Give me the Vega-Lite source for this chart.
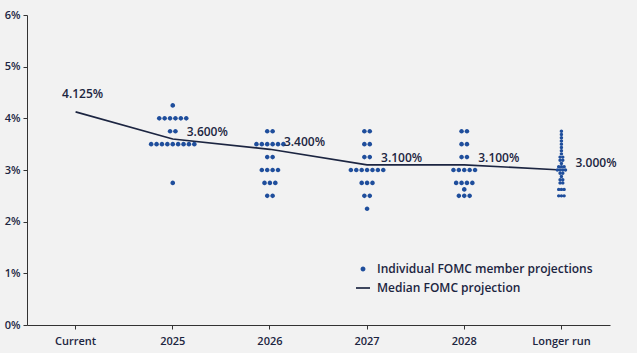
{
  "$schema": "https://vega.github.io/schema/vega-lite/v6.json",
  "width": 583,
  "height": 310,
  "autosize": {"type": "none"},
  "padding": {"left": 27, "top": 15, "right": 27, "bottom": 28},
  "background": "#f2f2f2",
  "config": {
    "view": {"stroke": null},
    "font": "Open Sans",
    "axis": {"labelFont": "Open Sans", "labelFontWeight": 600, "labelColor": "#1c2541", "labelFontSize": 11, "domainColor": "#333333", "tickColor": "#333333", "grid": false}
  },
  "datasets": {
    "dots": [
      {"period": "2025", "rate": 4.25},
      {"period": "2025", "rate": 4.0}, {"period": "2025", "rate": 4.0}, {"period": "2025", "rate": 4.0}, {"period": "2025", "rate": 4.0}, {"period": "2025", "rate": 4.0}, {"period": "2025", "rate": 4.0},
      {"period": "2025", "rate": 3.75}, {"period": "2025", "rate": 3.75},
      {"period": "2025", "rate": 3.5}, {"period": "2025", "rate": 3.5}, {"period": "2025", "rate": 3.5}, {"period": "2025", "rate": 3.5}, {"period": "2025", "rate": 3.5}, {"period": "2025", "rate": 3.5}, {"period": "2025", "rate": 3.5}, {"period": "2025", "rate": 3.5}, {"period": "2025", "rate": 3.5},
      {"period": "2025", "rate": 2.75},
      {"period": "2026", "rate": 3.75}, {"period": "2026", "rate": 3.75},
      {"period": "2026", "rate": 3.5}, {"period": "2026", "rate": 3.5}, {"period": "2026", "rate": 3.5}, {"period": "2026", "rate": 3.5}, {"period": "2026", "rate": 3.5}, {"period": "2026", "rate": 3.5},
      {"period": "2026", "rate": 3.25}, {"period": "2026", "rate": 3.25},
      {"period": "2026", "rate": 3.0}, {"period": "2026", "rate": 3.0}, {"period": "2026", "rate": 3.0}, {"period": "2026", "rate": 3.0},
      {"period": "2026", "rate": 2.75}, {"period": "2026", "rate": 2.75}, {"period": "2026", "rate": 2.75},
      {"period": "2026", "rate": 2.5}, {"period": "2026", "rate": 2.5},
      {"period": "2027", "rate": 3.75}, {"period": "2027", "rate": 3.75},
      {"period": "2027", "rate": 3.5}, {"period": "2027", "rate": 3.5},
      {"period": "2027", "rate": 3.25}, {"period": "2027", "rate": 3.25},
      {"period": "2027", "rate": 3.0}, {"period": "2027", "rate": 3.0}, {"period": "2027", "rate": 3.0}, {"period": "2027", "rate": 3.0}, {"period": "2027", "rate": 3.0}, {"period": "2027", "rate": 3.0}, {"period": "2027", "rate": 3.0},
      {"period": "2027", "rate": 2.75}, {"period": "2027", "rate": 2.75}, {"period": "2027", "rate": 2.75},
      {"period": "2027", "rate": 2.5}, {"period": "2027", "rate": 2.5},
      {"period": "2027", "rate": 2.25},
      {"period": "2028", "rate": 3.75}, {"period": "2028", "rate": 3.75},
      {"period": "2028", "rate": 3.5}, {"period": "2028", "rate": 3.5},
      {"period": "2028", "rate": 3.25}, {"period": "2028", "rate": 3.25},
      {"period": "2028", "rate": 3.0}, {"period": "2028", "rate": 3.0}, {"period": "2028", "rate": 3.0}, {"period": "2028", "rate": 3.0}, {"period": "2028", "rate": 3.0},
      {"period": "2028", "rate": 2.75}, {"period": "2028", "rate": 2.75}, {"period": "2028", "rate": 2.75}, {"period": "2028", "rate": 2.75},
      {"period": "2028", "rate": 2.625},
      {"period": "2028", "rate": 2.5}, {"period": "2028", "rate": 2.5}, {"period": "2028", "rate": 2.5},
      {"period": "Longer run", "rate": 3.75},
      {"period": "Longer run", "rate": 3.6875},
      {"period": "Longer run", "rate": 3.625},
      {"period": "Longer run", "rate": 3.5625},
      {"period": "Longer run", "rate": 3.5},
      {"period": "Longer run", "rate": 3.4375},
      {"period": "Longer run", "rate": 3.375},
      {"period": "Longer run", "rate": 3.3125},
      {"period": "Longer run", "rate": 3.25}, {"period": "Longer run", "rate": 3.25},
      {"period": "Longer run", "rate": 3.1875}, {"period": "Longer run", "rate": 3.1875},
      {"period": "Longer run", "rate": 3.125},
      {"period": "Longer run", "rate": 3.0625}, {"period": "Longer run", "rate": 3.0625}, {"period": "Longer run", "rate": 3.0625},
      {"period": "Longer run", "rate": 3.0}, {"period": "Longer run", "rate": 3.0}, {"period": "Longer run", "rate": 3.0}, {"period": "Longer run", "rate": 3.0},
      {"period": "Longer run", "rate": 2.9375}, {"period": "Longer run", "rate": 2.9375},
      {"period": "Longer run", "rate": 2.875},
      {"period": "Longer run", "rate": 2.8125}, {"period": "Longer run", "rate": 2.8125},
      {"period": "Longer run", "rate": 2.75}, {"period": "Longer run", "rate": 2.75},
      {"period": "Longer run", "rate": 2.625}, {"period": "Longer run", "rate": 2.625}, {"period": "Longer run", "rate": 2.625},
      {"period": "Longer run", "rate": 2.5}, {"period": "Longer run", "rate": 2.5}, {"period": "Longer run", "rate": 2.5}
    ],
    "medians": [
      {"period": "Current", "median": 4.125},
      {"period": "2025", "median": 3.6},
      {"period": "2026", "median": 3.4},
      {"period": "2027", "median": 3.1},
      {"period": "2028", "median": 3.1},
      {"period": "Longer run", "median": 3.0}
    ]
  },
  "encoding": {
    "x": {
      "field": "period",
      "type": "ordinal",
      "sort": ["Current", "2025", "2026", "2027", "2028", "Longer run"],
      "scale": {"type": "band", "domain": ["Current", "2025", "2026", "2027", "2028", "Longer run"], "paddingInner": 0, "paddingOuter": 0},
      "axis": {"title": null, "labelAngle": 0, "tickSize": 4, "labelPadding": 6, "domainWidth": 1}
    }
  },
  "layer": [
    {
      "data": {"name": "medians"},
      "mark": {"type": "line", "color": "#1c2541", "strokeWidth": 1.6},
      "encoding": {
        "y": {
          "field": "median",
          "type": "quantitative",
          "scale": {"domain": [0, 6], "nice": false},
          "axis": {"title": null, "values": [0, 1, 2, 3, 4, 5, 6], "labelExpr": "datum.value + '%'", "tickSize": 4, "labelPadding": 3}
        }
      }
    },
    {
      "data": {"name": "dots"},
      "transform": [
        {"window": [{"op": "row_number", "as": "r"}, {"op": "count", "as": "n"}], "groupby": ["period", "rate"], "frame": [null, null]},
        {"calculate": "datum.period === 'Longer run' ? (2 * datum.r - datum.n - 1) : 2 * (2 * datum.r - datum.n - 1)", "as": "slot"}
      ],
      "mark": {"type": "point", "filled": true, "opacity": 1, "strokeWidth": 0},
      "encoding": {
        "y": {"field": "rate", "type": "quantitative"},
        "xOffset": {
          "field": "slot",
          "type": "nominal",
          "scale": {"domain": [-36,-35,-34,-33,-32,-31,-30,-29,-28,-27,-26,-25,-24,-23,-22,-21,-20,-19,-18,-17,-16,-15,-14,-13,-12,-11,-10,-9,-8,-7,-6,-5,-4,-3,-2,-1,0,1,2,3,4,5,6,7,8,9,10,11,12,13,14,15,16,17,18,19,20,21,22,23,24,25,26,27,28,29,30,31,32,33,34,35,36], "paddingInner": 0, "paddingOuter": 0}
        },
        "size": {"condition": {"test": "datum.period === 'Longer run'", "value": 95}, "value": 172},
        "color": {
          "datum": "Individual FOMC member projections",
          "scale": {"domain": ["Individual FOMC member projections", "Median FOMC projection"], "range": ["#1f4e9c", "#1c2541"]},
          "legend": {
            "title": null,
            "orient": "none",
            "legendX": 329,
            "legendY": 247,
            "labelFont": "Open Sans",
            "labelFontWeight": 600,
            "labelFontSize": 12,
            "labelColor": "#1c2541",
            "labelOffset": 7,
            "labelLimit": 400,
            "rowPadding": 6,
            "symbolSize": 196,
            "symbolStrokeWidth": 0,
            "symbolOpacity": 1
          }
        },
        "shape": {
          "datum": "Individual FOMC member projections",
          "scale": {
            "domain": ["Individual FOMC member projections", "Median FOMC projection"],
            "range": ["M -0.35 0 A 0.35 0.35 0 1 0 0.35 0 A 0.35 0.35 0 1 0 -0.35 0 Z", "M -1 -0.12 L 1 -0.12 L 1 0.12 L -1 0.12 Z"]
          },
          "legend": {
            "title": null,
            "orient": "none",
            "legendX": 329,
            "legendY": 247,
            "labelFont": "Open Sans",
            "labelFontWeight": 600,
            "labelFontSize": 12,
            "labelColor": "#1c2541",
            "labelOffset": 7,
            "labelLimit": 400,
            "rowPadding": 6,
            "symbolSize": 196,
            "symbolStrokeWidth": 0,
            "symbolOpacity": 1
          }
        }
      }
    },
    {
      "data": {"name": "medians"},
      "transform": [
        {"filter": "datum.period !== 'Current'"},
        {"calculate": "format(datum.median, '.3f') + '%'", "as": "label"}
      ],
      "mark": {"type": "text", "align": "left", "baseline": "middle", "dx": 14, "dy": -7, "font": "Open Sans", "fontWeight": 600, "fontSize": 12, "color": "#1c2541"},
      "encoding": {
        "y": {"field": "median", "type": "quantitative"},
        "text": {"field": "label"}
      }
    },
    {
      "data": {"name": "medians"},
      "transform": [
        {"filter": "datum.period === 'Current'"},
        {"calculate": "format(datum.median, '.3f') + '%'", "as": "label"}
      ],
      "mark": {"type": "text", "align": "center", "baseline": "middle", "dx": 7, "dy": -18, "font": "Open Sans", "fontWeight": 600, "fontSize": 12, "color": "#1c2541"},
      "encoding": {
        "y": {"field": "median", "type": "quantitative"},
        "text": {"field": "label"}
      }
    }
  ]
}
